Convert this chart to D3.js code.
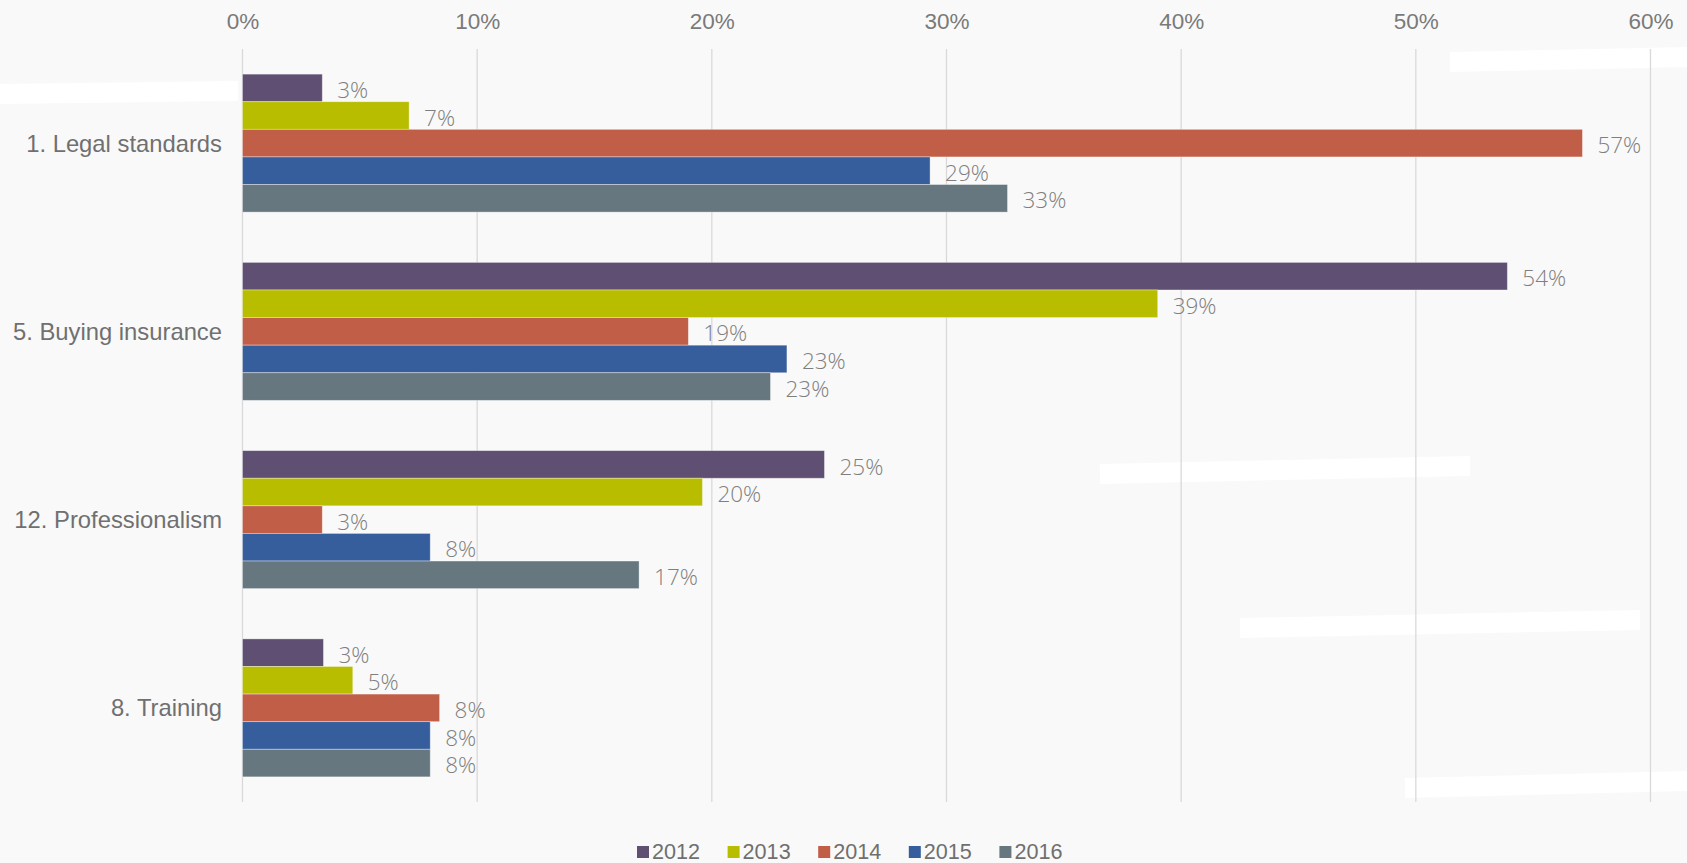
<!DOCTYPE html>
<html>
<head>
<meta charset="utf-8">
<script src="https://cdn.jsdelivr.net/npm/d3@7"></script>
<style>
  html, body { margin: 0; padding: 0; background: #ffffff; }
  svg { display: block; }
</style>
</head>
<body>
<svg id="chart" width="1687" height="863"></svg>
<script>
// ---- data ----
const categories = ["1. Legal standards", "5. Buying insurance", "12. Professionalism", "8. Training"];
const years = ["2012", "2013", "2014", "2015", "2016"];
const values2012 = [3.4, 53.9, 24.8, 3.45];
const values2013 = [7.1, 39.0, 19.6, 4.7];
const values2014 = [57.1, 19.0, 3.4, 8.4];
const values2015 = [29.3, 23.2, 8.0, 8.0];
const values2016 = [32.6, 22.5, 16.9, 8.0];
const xTicks = [0, 10, 20, 30, 40, 50, 60];
const colors = ["#5f4f73", "#b8bd00", "#c05e48", "#375e9c", "#67777f"];

const seriesValues = [values2012, values2013, values2014, values2015, values2016];

const svg = d3.select("#chart");
const W = 1687, H = 863;

// ---- faint decorative background ----
const bg = svg.append("g");
bg.append("rect").attr("width", W).attr("height", H).attr("fill", "#f9f9f9");
const stripes = [
  [[0, 94], [238, 91]],
  [[1450, 62], [1687, 57]],
  [[1100, 474], [1470, 466]],
  [[1240, 628], [1640, 620]],
  [[1405, 788], [1687, 781]]
];
const line = d3.line();
stripes.forEach(s => {
  bg.append("path").attr("d", line(s)).attr("fill", "none")
    .attr("stroke", "#ffffff").attr("stroke-width", 20).attr("stroke-linecap", "butt");
});

// ---- scales ----
const x = d3.scaleLinear().domain([0, 60]).range([242.5, 1650.5]);
const y0 = d3.scaleBand().domain(categories).range([49, 802])
  .paddingInner(0.267).paddingOuter(0.1335);
const y1 = d3.scaleBand().domain(years).range([0, y0.bandwidth()]).padding(0);

// ---- gridlines ----
svg.append("g").selectAll("line").data(xTicks).join("line")
  .attr("x1", d => x(d)).attr("x2", d => x(d))
  .attr("y1", 49).attr("y2", 802)
  .attr("stroke", "#d9d9d9").attr("stroke-width", 1.3);

// ---- top axis ----
const axis = d3.axisTop(x).tickValues(xTicks).tickFormat(d => d + "%").tickSize(0).tickPadding(0);
const ax = svg.append("g").attr("transform", "translate(0,29)").call(axis);
ax.select(".domain").remove();
ax.selectAll("text")
  .attr("font-family", "'Liberation Sans', Arial, sans-serif")
  .attr("font-size", "22.5px")
  .attr("fill", "#7a7a7a")
  .attr("dy", 0);

// ---- category axis ----
const yAxis = d3.axisLeft(y0).tickSize(0).tickPadding(0);
const ay = svg.append("g").attr("transform", "translate(222,0)").call(yAxis);
ay.select(".domain").remove();
ay.selectAll("text")
  .attr("font-family", "'Liberation Sans', Arial, sans-serif")
  .attr("font-size", "23.8px")
  .attr("fill", "#707070")
  .attr("dy", "0.36em");

// ---- bars ----
const rows = [];
categories.forEach((c, ci) => {
  years.forEach((yr, si) => {
    rows.push({ cat: c, year: yr, value: seriesValues[si][ci], color: colors[si] });
  });
});

const barG = svg.append("g");
barG.selectAll("rect").data(rows).join("rect")
  .attr("x", x(0))
  .attr("y", d => y0(d.cat) + y1(d.year))
  .attr("width", d => x(d.value) - x(0))
  .attr("height", y1.bandwidth())
  .attr("fill", d => d.color)
  .attr("stroke", "rgba(255,255,255,0.45)")
  .attr("stroke-width", 0.8);

// ---- value labels ----
svg.append("g").selectAll("text").data(rows).join("text")
  .attr("x", d => x(d.value) + 15)
  .attr("y", d => y0(d.cat) + y1(d.year) + y1.bandwidth() / 2 + 2)
  .attr("dy", "0.36em")
  .attr("font-family", "'Open Sans', sans-serif")
  .attr("font-weight", 300)
  .attr("font-size", "22.5px")
  .attr("fill", "#7f7f7f")
  .text(d => Math.round(d.value) + "%");

// ---- legend ----
const legend = svg.append("g").attr("transform", "translate(637,851)");
const li = legend.selectAll("g").data(years).join("g")
  .attr("transform", (d, i) => `translate(${i * 90.6},0)`);
li.append("rect").attr("x", 0).attr("y", -5).attr("width", 12).attr("height", 12)
  .attr("fill", (d, i) => colors[i]);
li.append("text").attr("x", 15).attr("y", 0).attr("dy", "0.36em")
  .attr("font-family", "'Liberation Sans', Arial, sans-serif")
  .attr("font-size", "21.6px")
  .attr("fill", "#6f6f6f")
  .text(d => d);
</script>
</body>
</html>
